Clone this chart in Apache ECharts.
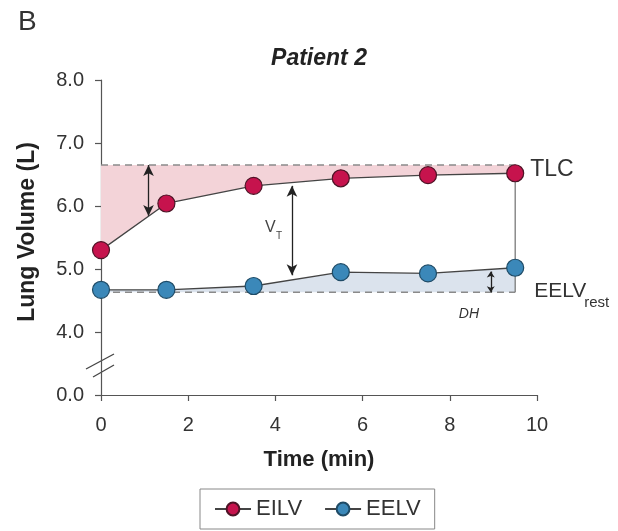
<!DOCTYPE html>
<html>
<head>
<meta charset="utf-8">
<script src="https://cdn.jsdelivr.net/npm/echarts@6/dist/echarts.min.js"></script>
<style>
  html, body { margin: 0; padding: 0; background: #fff; }
  #chart { width: 618px; height: 531px; }
</style>
</head>
<body>
<div id="chart"></div>
<script>
// Sampling times (min) for the end-inspiratory and end-expiratory lung volumes
const times = [0, 1.5, 3.5, 5.5, 7.5, 9.5];
const eilv = [5.30, 6.04, 6.32, 6.44, 6.49, 6.52];
const eelv = [4.67, 4.67, 4.73, 4.95, 4.93, 5.02];
// Reference volumes (L)
const tlc = 6.65;
const eelvRest = 4.63;
// Broken y axis: the value 3 sits where the axis shows 0.0
const yTickValues = [3, 4, 5, 6, 7, 8];
const yTickLabels = ['0.0', '4.0', '5.0', '6.0', '7.0', '8.0'];
const xTicks = [0, 2, 4, 6, 8, 10];

const FONT = "'Liberation Sans', Arial, Helvetica, sans-serif";
const pair = (xs, ys) => xs.map((x, i) => [x, ys[i]]);
const last = times.length - 1;

// Shaded bands: each one follows a curve and closes along a reference level
const bands = [
  { curve: eilv, level: tlc, color: '#f3d3d8' },     // inspiratory reserve volume
  { curve: eelv, level: eelvRest, color: '#dbe3ed' } // dynamic hyperinflation
];

const chart = echarts.init(document.getElementById('chart'), null, { renderer: 'canvas' });

const option = {
  animation: false,
  backgroundColor: '#fff',
  textStyle: { fontFamily: FONT },
  grid: { left: 101, right: 81, top: 80, bottom: 136, containLabel: false },
  legend: {
    data: ['EILV', 'EELV'],
    left: 200, top: 489,
    padding: [9, 14, 9, 14],
    itemGap: 22,
    itemWidth: 36, itemHeight: 16,
    borderColor: '#888', borderWidth: 1,
    textStyle: { fontSize: 22, color: '#333', fontFamily: FONT }
  },
  xAxis: {
    type: 'value', min: xTicks[0], max: xTicks[xTicks.length - 1], interval: 2,
    name: 'Time (min)', nameLocation: 'middle', nameGap: 54,
    nameTextStyle: { fontSize: 22, fontWeight: 'bold', color: '#222', fontFamily: FONT },
    axisLine: { lineStyle: { color: '#555', width: 1.2 } },
    axisTick: { length: 6, lineStyle: { color: '#555', width: 1.2 } },
    axisLabel: { fontSize: 20, color: '#333', margin: 20, fontFamily: FONT },
    splitLine: { show: false }
  },
  yAxis: {
    type: 'value', min: yTickValues[0], max: yTickValues[yTickValues.length - 1], interval: 1,
    axisLine: { show: true, lineStyle: { color: '#555', width: 1.2 } },
    axisTick: { show: true, length: 6, lineStyle: { color: '#555', width: 1.2 } },
    axisLabel: {
      fontSize: 20, color: '#333', margin: 17, fontFamily: FONT,
      formatter: v => yTickLabels[yTickValues.indexOf(v)] ?? ''
    },
    splitLine: { show: false }
  },
  series: [
    {
      type: 'custom', name: 'bands', z: 1, silent: true, clip: false,
      data: bands.map(b => [times[0], b.level]),
      renderItem: (params, api) => {
        const b = bands[params.dataIndex];
        const pts = times.map((t, i) => api.coord([t, b.curve[i]]));
        pts.push(api.coord([times[last], b.level]));
        pts.push(api.coord([times[0], b.level]));
        return { type: 'polygon', shape: { points: pts }, style: { fill: b.color } };
      }
    },
    // Resting EELV and TLC reference lines
    { type: 'line', name: 'restLine', z: 2, symbol: 'none', silent: true,
      data: [[times[0], eelvRest], [times[last], eelvRest]],
      lineStyle: { color: '#8a8a8a', width: 1.4, type: [7, 5] } },
    { type: 'line', name: 'tlcLine', z: 2, symbol: 'none', silent: true,
      data: [[times[0], tlc], [times[last], tlc]],
      lineStyle: { color: '#8a8a8a', width: 1.4, type: [7, 5] } },
    // Closing edge at the last sample
    { type: 'line', name: 'endEdge', z: 2, symbol: 'none', silent: true,
      data: [[times[last], eilv[last]], [times[last], eelvRest]],
      lineStyle: { color: '#7a7a7a', width: 1.3 } },
    // Double-headed arrows for IRV, VT and DH
    { type: 'line', name: 'arrows', z: 4, data: [], silent: true,
      markLine: {
        silent: true, symbol: ['arrow', 'arrow'], symbolSize: [8, 11],
        label: { show: false },
        lineStyle: { color: '#222', width: 1.3, type: 'solid' },
        data: [
          [{ coord: [1.09, tlc] }, { coord: [1.09, 5.84] }],
          [{ coord: [4.38, 6.32] }, { coord: [4.38, 4.90] }],
          [{ coord: [8.94, 4.96], symbolSize: [6, 6] }, { coord: [8.94, eelvRest], symbolSize: [6, 6] }]
        ]
      } },
    { type: 'line', name: 'EILV', z: 5, data: pair(times, eilv),
      symbol: 'circle', symbolSize: 17,
      lineStyle: { color: '#444', width: 1.3 },
      itemStyle: { color: '#c6134d', borderColor: '#4d1426', borderWidth: 1.2 } },
    { type: 'line', name: 'EELV', z: 5, data: pair(times, eelv),
      symbol: 'circle', symbolSize: 17,
      lineStyle: { color: '#444', width: 1.3 },
      itemStyle: { color: '#3b88b9', borderColor: '#1f4b66', borderWidth: 1.2 } }
  ]
};

chart.setOption(option);

// Text annotations, y-axis title and the axis-break marks, placed from data coordinates
const px = (x, y) => chart.convertToPixel({ gridIndex: 0 }, [x, y]);
const txt = (pos, text, style) => ({
  type: 'text', x: pos[0], y: pos[1], silent: true,
  style: Object.assign({ text, fontFamily: FONT, fill: '#333', align: 'left', verticalAlign: 'middle' }, style)
});

const irvPos = px(0.53, 6.21);
const vPos = px(3.76, 5.65);
const dhPos = px(8.44, 4.29);
const tlcPos = px(times[last], tlc);
const restPos = px(times[last], eelvRest);
const brk = px(0, 3.46);

const graphics = [
  { type: 'text', x: 18, y: 8, silent: true,
    style: { text: 'B', fontFamily: FONT, fontSize: 28, fill: '#333' } },
  { type: 'text', x: 319, y: 59, silent: true,
    style: { text: 'Patient 2', fontFamily: FONT, fontSize: 23, fontWeight: 'bold', fontStyle: 'italic',
             fill: '#222', align: 'center', verticalAlign: 'middle' } },
  { type: 'text', x: 28, y: 232, rotation: Math.PI / 2, silent: true,
    style: { text: 'Lung Volume (L)', fontFamily: FONT, fontSize: 23, fontWeight: 'bold',
             fill: '#222', align: 'center', verticalAlign: 'middle' } },
  txt(irvPos, 'IRV', { fontSize: 13, align: 'center', fill: '#444' }),
  txt(vPos, 'V', { fontSize: 16, fill: '#444' }),
  txt([vPos[0] + 11, vPos[1] + 8], 'T', { fontSize: 10, fill: '#444' }),
  txt(dhPos, 'DH', { fontSize: 14, fontStyle: 'italic', align: 'center', fill: '#333' }),
  txt([tlcPos[0] + 15, tlcPos[1] + 5], 'TLC', { fontSize: 23 }),
  txt([restPos[0] + 19, restPos[1] - 1], 'EELV', { fontSize: 21 }),
  txt([restPos[0] + 69, restPos[1] + 11], 'rest', { fontSize: 15 }),
  { type: 'line', silent: true, shape: { x1: brk[0] - 15, y1: brk[1] + 3, x2: brk[0] + 13, y2: brk[1] - 12 },
    style: { stroke: '#444', lineWidth: 1.3 } },
  { type: 'line', silent: true, shape: { x1: brk[0] - 8, y1: brk[1] + 11, x2: brk[0] + 13, y2: brk[1] - 1 },
    style: { stroke: '#444', lineWidth: 1.3 } }
];

chart.setOption({ graphic: graphics });
</script>
</body>
</html>
